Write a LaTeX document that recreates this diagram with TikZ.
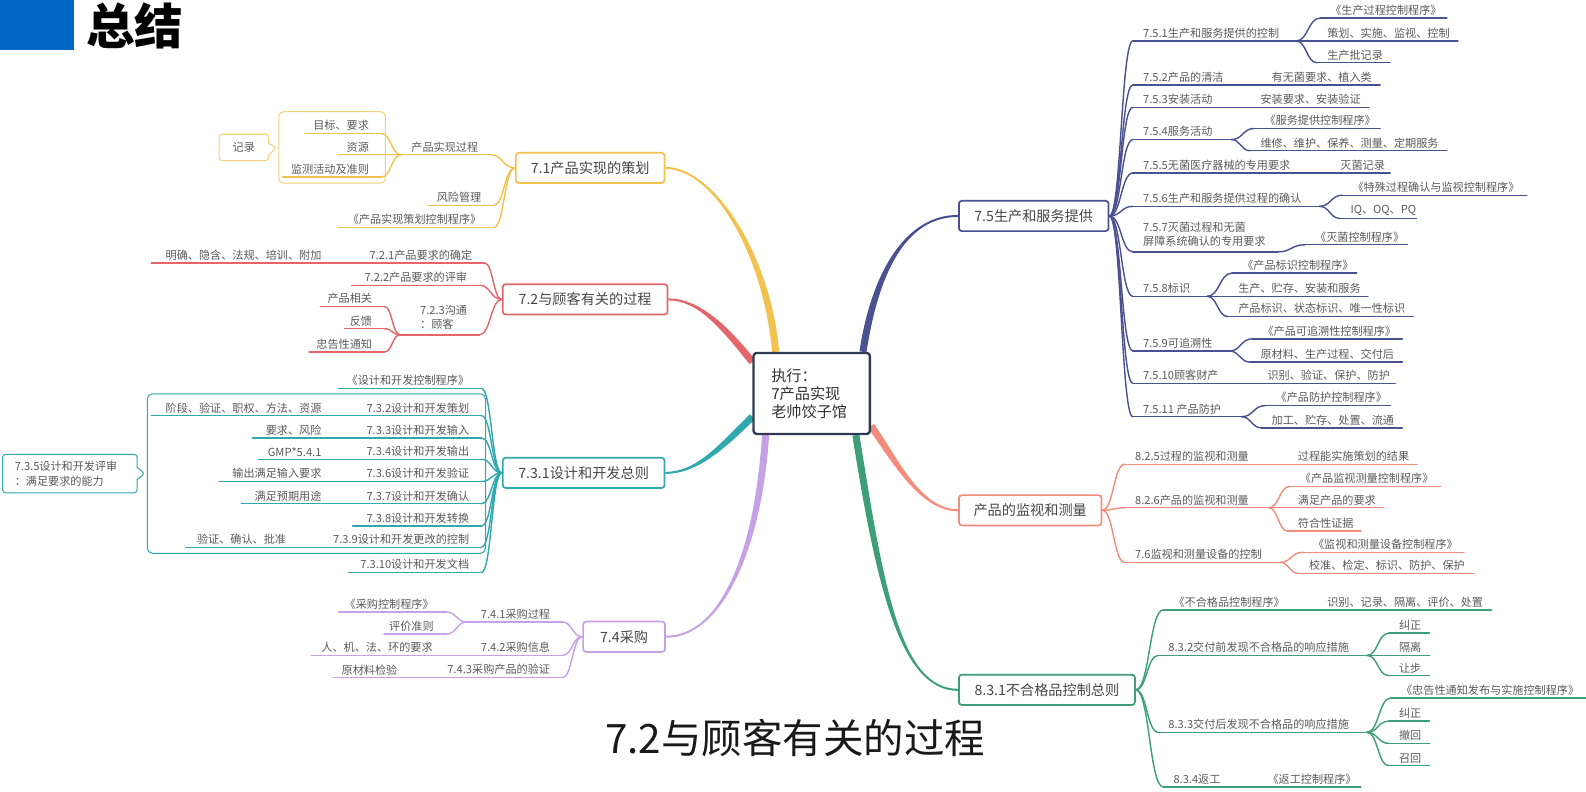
\documentclass[tikz,border=0pt]{standalone}
\usepackage{fontspec}
\setmainfont{Noto Sans CJK SC}
\usepackage{tikz}
\usetikzlibrary{calc, positioning, fit, shapes.callouts}
\definecolor{myellow}{HTML}{F2C14E}
\definecolor{mred}{HTML}{E3676A}
\definecolor{mteal}{HTML}{2FA8AE}
\definecolor{mpurple}{HTML}{C6A2E4}
\definecolor{mnavy}{HTML}{4A5190}
\definecolor{msalmon}{HTML}{F38C7B}
\definecolor{mgreen}{HTML}{3C9F77}
\definecolor{hubline}{HTML}{2F3A52}
\definecolor{inkgray}{HTML}{5A5A5A}
\definecolor{topicgray}{HTML}{474747}
\definecolor{titleblue}{HTML}{0067C6}
\pgfdeclarelayer{background}
\pgfsetlayers{background,main}
\tikzset{
  item/.style={inner xsep=0pt, inner ysep=2.5pt, text=inkgray, font=\fontsize{11}{13}\selectfont},
  uline/.style={line width=1.4pt, line cap=round},
  topic/.style={draw=#1, line width=1.7pt, rounded corners=3pt, fill=white, text=topicgray, font=\fontsize{14}{16}\selectfont, minimum height=30pt, inner sep=0pt},
  hub/.style={draw=hubline, line width=2.3pt, rounded corners=3pt, fill=white, text=black!80, font=\fontsize{15}{18}\selectfont, align=left, text width=80pt, inner xsep=17.5pt, minimum height=80pt},
  bound/.style={draw=#1, line width=1pt, rounded corners=5pt, inner xsep=4pt, inner ysep=6pt},
  note/.style={rectangle callout, draw=#1, line width=1pt, fill=white, rounded corners=3pt, callout pointer width=12pt, text=inkgray, font=\fontsize{11}{15}\selectfont},
  heading/.style={font=\fontsize{48}{48}\selectfont\bfseries, text=black, inner sep=0pt},
  caption/.style={font=\fontsize{40}{40}\selectfont, text=black!90, inner sep=0pt},
}
% entry on the left side: name, left x, right x, line y, text
\newcommand\leftentry[5]{%
  \node[item, anchor=south east] (#1) at (#3,#4)
    {\makebox[\dimexpr#3pt-#2pt\relax][r]{#5\hspace*{12pt}}};
  \draw[uline] (#1.south west) -- (#1.south east);}
% entry on the right side: name, left x, right x, line y, text
\newcommand\rightentry[5]{%
  \node[item, anchor=south west] (#1) at (#2,#4)
    {\makebox[\dimexpr#3pt-#2pt\relax][l]{\hspace*{10pt}#5}};
  \draw[uline] (#1.south west) -- (#1.south east);}
\newcommand\twig[2]{\draw[uline] let \p1=(#1), \p2=(#2) in
  (\p1) .. controls ({(\x1+\x2)/2},\y1) and ({(\x1+\x2)/2},\y2) .. (\p2);}
% tapered main branch: colour, from, control 1, control 2, to
\newcommand\trunk[5]{%
  \fill[#1] ($(#2)!3.5pt!90:(#3)$) .. controls ($(#3)!3.5pt!-90:(#2)$) and ($(#4)!1pt!90:(#5)$) .. ($(#5)!1pt!-90:(#4)$)
    -- ($(#5)!1pt!90:(#4)$) .. controls ($(#4)!1pt!-90:(#5)$) and ($(#3)!3.5pt!90:(#2)$) .. ($(#2)!3.5pt!-90:(#3)$) -- cycle;}

\begin{document}
\begin{tikzpicture}[x=1pt, y=-1pt]
  \useasboundingbox (0,0) rectangle (1568,783);
  % heading
  \node[fill=titleblue, anchor=north west, minimum width=73pt, minimum height=49pt, inner sep=0pt] (bar) at (0,0) {};
  \node[heading, anchor=base west] (ttl) at (85,44) {总结};
  \node[caption, anchor=base] (cap) at (786,745) {7.2与顾客有关的过程};

  % centre and main topics
  \node[hub] (ctr) at (802.5,389) {执行：\\7产品实现\\老帅饺子馆};
  \node[topic=myellow, minimum width=147pt] (t71) at (583.5,166) {7.1产品实现的策划};
  \node[topic=mred, minimum width=163pt] (t72) at (578.5,296) {7.2与顾客有关的过程};
  \node[topic=mteal, minimum width=160pt] (t731) at (577,467.5) {7.3.1设计和开发总则};
  \node[topic=mpurple, minimum width=81pt] (t74) at (617,629.5) {7.4采购};
  \node[topic=mnavy, minimum width=148pt] (t75) at (1022,213.5) {7.5生产和服务提供};
  \node[topic=msalmon, minimum width=141pt] (tmon) at (1018.5,504.5) {产品的监视和测量};
  \node[topic=mgreen, minimum width=174pt] (t831) at (1035,682) {8.3.1不合格品控制总则};

  \coordinate (hY) at ([xshift=23pt]ctr.north west);
  \coordinate (hR) at ([yshift=-10pt]ctr.north west);
  \coordinate (hT) at ([yshift=-23pt]ctr.west);
  \coordinate (hP) at ([xshift=13pt]ctr.south west);
  \coordinate (hN) at ([xshift=-8pt]ctr.north east);
  \coordinate (hS) at ([yshift=-32pt]ctr.east);
  \coordinate (hG) at ([xshift=-15pt]ctr.south east);
  \begin{pgfonlayer}{background}
    \trunk{myellow}{hY}{758,250}{705,166}{t71.east}
    \trunk{mred}{hR}{715,322}{690,296}{t72.east}
    \trunk{mteal}{hT}{715,440}{690,467.5}{t731.east}
    \trunk{mpurple}{hP}{750,540}{715,629.5}{t74.east}
    \trunk{mnavy}{hN}{865,270}{895,213.5}{t75.west}
    \trunk{msalmon}{hS}{885,455}{910,504.5}{tmon.west}
    \trunk{mgreen}{hG}{870,580}{890,682}{t831.west}
  \end{pgfonlayer}

  % 7.1
  \begin{scope}[myellow]
    \leftentry{pr}{397}{485}{153}{产品实现过程}
    \leftentry{fx}{424}{488}{203}{风险管理}
    \leftentry{cx}{335}{488}{225}{《产品实现策划控制程序》}
    \leftentry{mb}{302}{377}{132}{目标、要求}
    \leftentry{zy}{335}{377}{153}{资源}
    \leftentry{jc}{280}{377}{175}{监测活动及准则}
    \twig{t71.west}{pr.south east}
    \twig{t71.west}{fx.south east}
    \twig{t71.west}{cx.south east}
    \twig{pr.south west}{mb.south east}
    \twig{pr.south west}{zy.south east}
    \twig{pr.south west}{jc.south east}
    \node[bound=myellow!75, fit=(mb)(zy)(jc)] (fb71) {};
    \node[note=myellow!75, left=9pt of fb71, minimum width=49pt, minimum height=26pt,
      callout absolute pointer={([xshift=-2pt]fb71.west)}] (rec) {记录};
  \end{scope}

  % 7.2
  \begin{scope}[mred]
    \leftentry{r1}{350}{479}{260}{7.2.1产品要求的确定}
    \leftentry{r1a}{150}{330}{260}{明确、隐含、法规、培训、附加}
    \leftentry{r2}{348}{474}{282}{7.2.2产品要求的评审}
    \leftentry{r3}{396}{474}{331}{\begin{tabular}[b]{@{}l@{}}7.2.3沟通\\：顾客\end{tabular}}
    \leftentry{r3a}{317}{380}{303}{产品相关}
    \leftentry{r3b}{341}{380}{325}{反馈}
    \leftentry{r3c}{306}{380}{348}{忠告性通知}
    \twig{t72.west}{r1.south east}
    \twig{t72.west}{r2.south east}
    \twig{t72.west}{r3.south east}
    \twig{r1.south west}{r1a.south east}
    \twig{r3.south west}{r3a.south east}
    \twig{r3.south west}{r3b.south east}
    \twig{r3.south west}{r3c.south east}
  \end{scope}

  % 7.3
  \begin{scope}[mteal]
    \leftentry{t0}{335}{476}{384}{《设计和开发控制程序》}
    \leftentry{t2}{340}{476}{411}{7.3.2设计和开发策划}
    \leftentry{t2a}{150}{330}{411}{阶段、验证、职权、方法、资源}
    \leftentry{t3}{340}{476}{433}{7.3.3设计和开发输入}
    \leftentry{t3a}{250}{330}{433}{要求、风险}
    \leftentry{t4}{340}{476}{454}{7.3.4设计和开发输出}
    \leftentry{t4a}{256}{330}{454}{GMP*5.4.1}
    \leftentry{t6}{340}{476}{476}{7.3.6设计和开发验证}
    \leftentry{t6a}{217}{330}{476}{输出满足输入要求}
    \leftentry{t7}{340}{476}{498}{7.3.7设计和开发确认}
    \leftentry{t7a}{239}{330}{498}{满足预期用途}
    \leftentry{t8}{349}{476}{520}{7.3.8设计和开发转换}
    \leftentry{t9}{300}{476}{541}{7.3.9设计和开发更改的控制}
    \leftentry{t9a}{184}{295}{541}{验证、确认、批准}
    \leftentry{t10}{345}{476}{566}{7.3.10设计和开发文档}
    \twig{t731.west}{t0.south east}
    \twig{t731.west}{t2.south east}
    \twig{t731.west}{t3.south east}
    \twig{t731.west}{t4.south east}
    \twig{t731.west}{t6.south east}
    \twig{t731.west}{t7.south east}
    \twig{t731.west}{t8.south east}
    \twig{t731.west}{t9.south east}
    \twig{t731.west}{t10.south east}
    \twig{t2.south west}{t2a.south east}
    \twig{t3.south west}{t3a.south east}
    \twig{t4.south west}{t4a.south east}
    \twig{t6.south west}{t6a.south east}
    \twig{t7.south west}{t7a.south east}
    \twig{t9.south west}{t9a.south east}
    \node[bound=mteal, fit=(t2)(t2a)(t9)(t9a)] (fb73) {};
    \node[note=mteal, left=9pt of fb73, text width=109pt, align=left, inner xsep=12pt, minimum height=38pt,
      callout absolute pointer={([xshift=-2pt]fb73.west)}] (rev) {7.3.5设计和开发评审\\：满足要求的能力};
  \end{scope}

  % 7.4
  \begin{scope}[mpurple]
    \leftentry{p1}{462}{556}{615}{7.4.1采购过程}
    \leftentry{p1a}{335}{441}{605}{《采购控制程序》}
    \leftentry{p1b}{380}{441}{627}{评价准则}
    \leftentry{p2}{440}{556}{648}{7.4.2采购信息}
    \leftentry{p2a}{308}{440}{648}{人、机、法、环的要求}
    \leftentry{p3}{420}{556}{670}{7.4.3采购产品的验证}
    \leftentry{p3a}{330}{405}{670}{原材料检验}
    \twig{t74.west}{p1.south east}
    \twig{t74.west}{p2.south east}
    \twig{t74.west}{p3.south east}
    \twig{p1.south west}{p1a.south east}
    \twig{p1.south west}{p1b.south east}
    \twig{p2.south west}{p2a.south east}
    \twig{p3.south west}{p3a.south east}
  \end{scope}

  % 7.5
  \begin{scope}[mnavy]
    \rightentry{n1}{1120}{1281}{40.5}{7.5.1生产和服务提供的控制}
    \rightentry{n1a}{1305}{1430}{18}{《生产过程控制程序》}
    \rightentry{n1b}{1302}{1441}{40.5}{策划、实施、监视、控制}
    \rightentry{n1c}{1302}{1374}{62}{生产批记录}
    \rightentry{n2}{1120}{1245}{84}{7.5.2产品的清洁}
    \rightentry{n2a}{1247}{1364}{84}{有无菌要求、植入类}
    \rightentry{n3}{1120}{1236}{106}{7.5.3安装活动}
    \rightentry{n3a}{1236}{1353}{106}{安装要求、安装验证}
    \rightentry{n4}{1120}{1217}{138}{7.5.4服务活动}
    \rightentry{n4a}{1240}{1364}{127}{《服务提供控制程序》}
    \rightentry{n4b}{1236}{1430}{149}{维修、维护、保养、测量、定期服务}
    \rightentry{n5}{1120}{1315}{171}{7.5.5无菌医疗器械的专用要求}
    \rightentry{n5a}{1315}{1374}{171}{灭菌记录}
    \rightentry{n6}{1120}{1304}{204}{7.5.6生产和服务提供过程的确认}
    \rightentry{n6a}{1327}{1509}{193}{《特殊过程确认与监视控制程序》}
    \rightentry{n6b}{1325}{1400}{216}{IQ、OQ、PQ}
    \rightentry{n7}{1120}{1263}{249}{\begin{tabular}[b]{@{}l@{}}7.5.7灭菌过程和无菌\\屏障系统确认的专用要求\end{tabular}}
    \rightentry{n7a}{1290}{1391}{242}{《灭菌控制程序》}
    \rightentry{n8}{1120}{1193}{293}{7.5.8标识}
    \rightentry{n8a}{1218}{1341}{270}{《产品标识控制程序》}
    \rightentry{n8b}{1214}{1352}{293}{生产、贮存、安装和服务}
    \rightentry{n8c}{1214}{1397}{313}{产品标识、状态标识、唯一性标识}
    \rightentry{n9}{1120}{1215}{347}{7.5.9可追溯性}
    \rightentry{n9a}{1238}{1386}{335}{《产品可追溯性控制程序》}
    \rightentry{n9b}{1236}{1386}{358}{原材料、生产过程、交付后}
    \rightentry{n10}{1120}{1243}{379}{7.5.10顾客财产}
    \rightentry{n10a}{1243}{1379}{379}{识别、验证、保护、防护}
    \rightentry{n11}{1120}{1227}{412}{7.5.11 产品防护}
    \rightentry{n11a}{1251}{1374}{401}{《产品防护控制程序》}
    \rightentry{n11b}{1247}{1386}{423}{加工、贮存、处置、流通}
    \twig{t75.east}{n1.south west}
    \twig{t75.east}{n2.south west}
    \twig{t75.east}{n3.south west}
    \twig{t75.east}{n4.south west}
    \twig{t75.east}{n5.south west}
    \twig{t75.east}{n6.south west}
    \twig{t75.east}{n7.south west}
    \twig{t75.east}{n8.south west}
    \twig{t75.east}{n9.south west}
    \twig{t75.east}{n10.south west}
    \twig{t75.east}{n11.south west}
    \twig{n1.south east}{n1a.south west}
    \twig{n1.south east}{n1b.south west}
    \twig{n1.south east}{n1c.south west}
    \twig{n2.south east}{n2a.south west}
    \twig{n3.south east}{n3a.south west}
    \twig{n4.south east}{n4a.south west}
    \twig{n4.south east}{n4b.south west}
    \twig{n5.south east}{n5a.south west}
    \twig{n6.south east}{n6a.south west}
    \twig{n6.south east}{n6b.south west}
    \twig{n7.south east}{n7a.south west}
    \twig{n8.south east}{n8a.south west}
    \twig{n8.south east}{n8b.south west}
    \twig{n8.south east}{n8c.south west}
    \twig{n9.south east}{n9a.south west}
    \twig{n9.south east}{n9b.south west}
    \twig{n10.south east}{n10a.south west}
    \twig{n11.south east}{n11a.south west}
    \twig{n11.south east}{n11b.south west}
  \end{scope}

  % monitoring and measuring
  \begin{scope}[msalmon]
    \rightentry{m1}{1112}{1273}{459}{8.2.5过程的监视和测量}
    \rightentry{m1a}{1273}{1401}{459}{过程能实施策划的结果}
    \rightentry{m2}{1112}{1254}{502}{8.2.6产品的监视和测量}
    \rightentry{m2a}{1275}{1424}{481}{《产品监视测量控制程序》}
    \rightentry{m2b}{1273}{1368}{502}{满足产品的要求}
    \rightentry{m2c}{1273}{1345}{525}{符合性证据}
    \rightentry{m3}{1112}{1265}{556}{7.6监视和测量设备的控制}
    \rightentry{m3a}{1288}{1447}{546}{《监视和测量设备控制程序》}
    \rightentry{m3b}{1284}{1457}{567}{校准、检定、标识、防护、保护}
    \twig{tmon.east}{m1.south west}
    \twig{tmon.east}{m2.south west}
    \twig{tmon.east}{m3.south west}
    \twig{m1.south east}{m1a.south west}
    \twig{m2.south east}{m2a.south west}
    \twig{m2.south east}{m2b.south west}
    \twig{m2.south east}{m2c.south west}
    \twig{m3.south east}{m3a.south west}
    \twig{m3.south east}{m3b.south west}
  \end{scope}

  % 8.3.1
  \begin{scope}[mgreen]
    \rightentry{g1}{1150}{1302}{603}{《不合格品控制程序》}
    \rightentry{g1a}{1302}{1474}{603}{识别、记录、隔离、评价、处置}
    \rightentry{g2}{1145}{1351}{648}{8.3.2交付前发现不合格品的响应措施}
    \rightentry{g2a}{1373}{1413}{626}{纠正}
    \rightentry{g2b}{1373}{1413}{648}{隔离}
    \rightentry{g2c}{1373}{1413}{668}{让步}
    \rightentry{g3}{1145}{1351}{724}{8.3.3交付后发现不合格品的响应措施}
    \rightentry{g3a}{1375}{1570}{690}{《忠告性通知发布与实施控制程序》}
    \rightentry{g3b}{1373}{1413}{713}{纠正}
    \rightentry{g3c}{1373}{1413}{735}{撤回}
    \rightentry{g3d}{1373}{1413}{757}{召回}
    \rightentry{g4}{1150}{1243}{778}{8.3.4返工}
    \rightentry{g4a}{1243}{1345}{778}{《返工控制程序》}
    \twig{t831.east}{g1.south west}
    \twig{t831.east}{g2.south west}
    \twig{t831.east}{g3.south west}
    \twig{t831.east}{g4.south west}
    \twig{g1.south east}{g1a.south west}
    \twig{g2.south east}{g2a.south west}
    \twig{g2.south east}{g2b.south west}
    \twig{g2.south east}{g2c.south west}
    \twig{g3.south east}{g3a.south west}
    \twig{g3.south east}{g3b.south west}
    \twig{g3.south east}{g3c.south west}
    \twig{g3.south east}{g3d.south west}
    \twig{g4.south east}{g4a.south west}
  \end{scope}
\end{tikzpicture}
\end{document}
